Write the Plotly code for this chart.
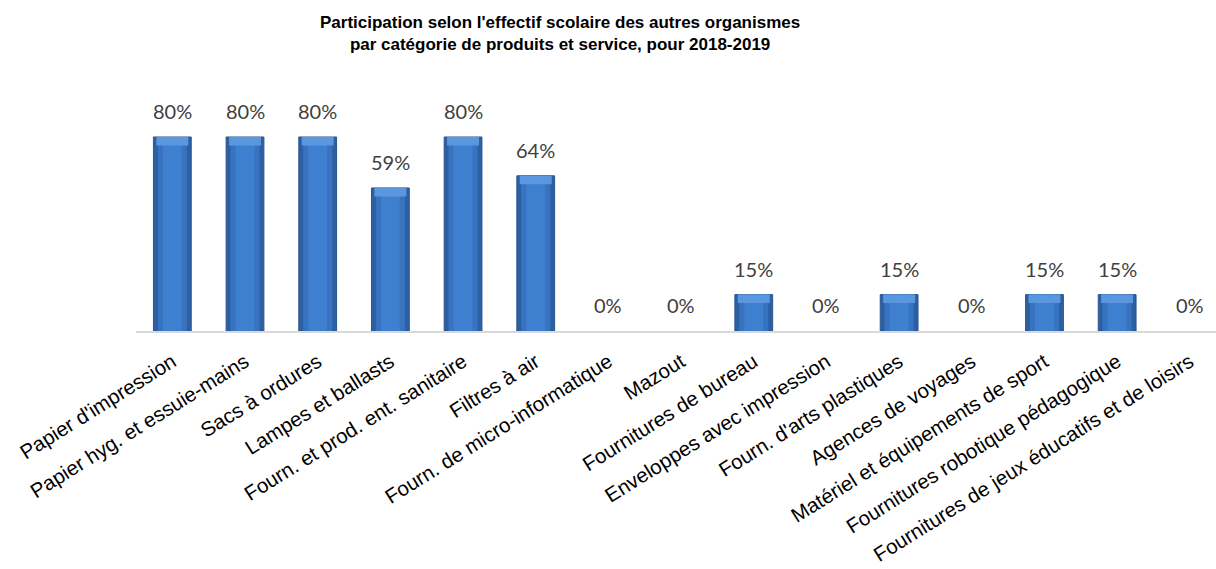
import plotly.graph_objects as go

title_text = ("Participation selon l'effectif scolaire des autres organismes<br>"
              "par catégorie de produits et service, pour 2018-2019")
categories = [
    "Papier d'impression", "Papier hyg. et essuie-mains", "Sacs à ordures",
    "Lampes et ballasts", "Fourn. et prod. ent. sanitaire", "Filtres à air",
    "Fourn. de micro-informatique", "Mazout", "Fournitures de bureau",
    "Enveloppes avec impression", "Fourn. d'arts plastiques", "Agences de voyages",
    "Matériel et équipements de sport", "Fournitures robotique pédagogique",
    "Fournitures de jeux éducatifs et de loisirs",
]
values = [0.80, 0.80, 0.80, 0.59, 0.80, 0.64, 0, 0, 0.15, 0, 0.15, 0, 0.15, 0.15, 0]
labels = [f"{round(v*100)}%" for v in values]

bar_vals = [v if v > 0 else None for v in values]
cap = 0.035
cap_base = [v - cap if v > 0 else None for v in values]
cap_len = [cap if v > 0 else None for v in values]

fig = go.Figure()
fig.add_trace(go.Bar(
    x=categories, y=bar_vals, width=0.52,
    marker=dict(color="#2d5fa3", line=dict(color="#2a5690", width=1)),
    hoverinfo="skip",
))
fig.add_trace(go.Bar(
    x=categories, y=bar_vals, width=0.40,
    marker=dict(color="#3873c0", line=dict(width=0)),
    hoverinfo="skip",
))
fig.add_trace(go.Bar(
    x=categories, y=bar_vals, width=0.26,
    marker=dict(color="#3f7fcf", line=dict(width=0)),
    hoverinfo="skip",
))
fig.add_trace(go.Bar(
    x=categories, y=cap_len, base=cap_base, width=0.44,
    marker=dict(color="#5b97df", line=dict(width=0)),
    hoverinfo="skip",
))

for c, v, t in zip(categories, values, labels):
    fig.add_annotation(x=c, y=v, text=t, showarrow=False, yanchor="bottom",
                       yshift=12, font=dict(family="Lato", size=20, color="#404040"))

fig.add_annotation(
    text=title_text, xref="paper", yref="paper",
    x=(560 - 136) / 1080, y=1 + (80 - 11) / 251, xanchor="center", yanchor="top",
    showarrow=False, align="center",
    font=dict(family="Liberation Sans", size=17, color="black", weight="bold"),
)

fig.update_layout(
    width=1216, height=569,
    barmode="overlay",
    showlegend=False,
    plot_bgcolor="white", paper_bgcolor="white",
    margin=dict(l=136, r=0, t=80, b=238, autoexpand=False),
    xaxis=dict(
        range=[-0.5, 14.36], tickangle=-32, automargin=False,
        showline=True, linecolor="#d9d9d9", linewidth=2,
        ticks="", ticklabelstandoff=9,
        tickfont=dict(family="Liberation Sans", size=20.5, color="black"),
        showgrid=False,
    ),
    yaxis=dict(range=[0, 1.035], visible=False, showgrid=False, automargin=False),
)

fig.write_html("out.html", config={"displayModeBar": False},
               post_script="document.body.style.margin='0';document.body.style.overflow='hidden';")
